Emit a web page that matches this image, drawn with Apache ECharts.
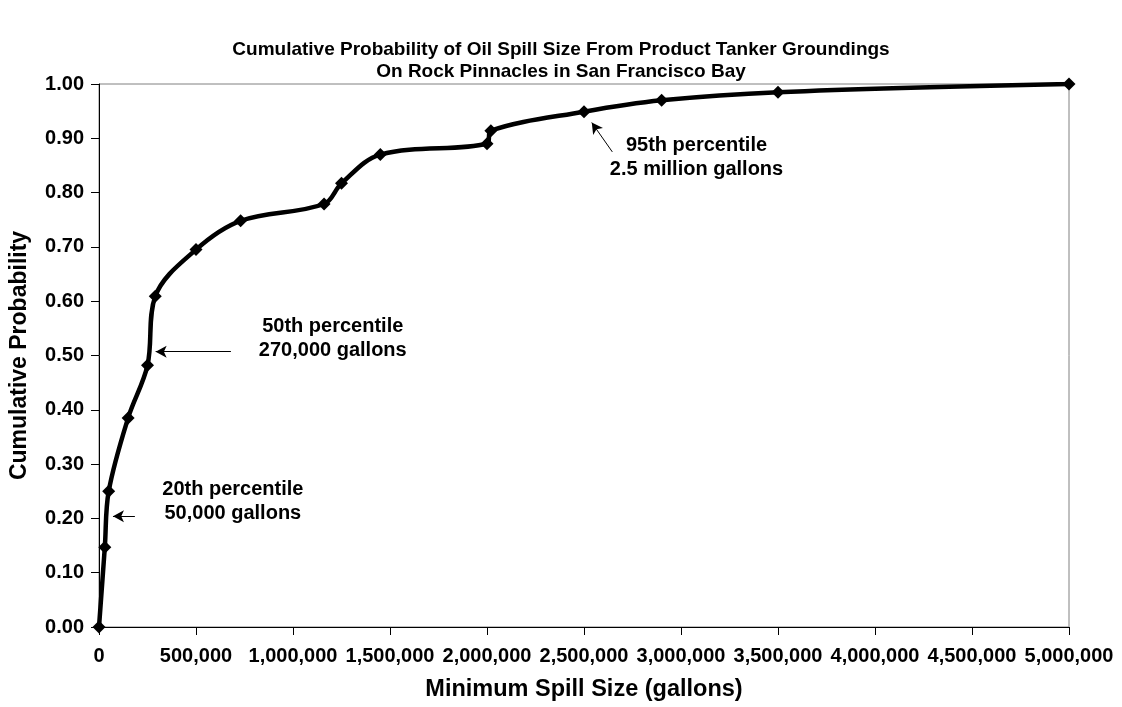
<!DOCTYPE html>
<html>
<head>
<meta charset="utf-8">
<script src="https://cdn.jsdelivr.net/npm/echarts@6/dist/echarts.min.js"></script>
<style>
  html, body { margin: 0; padding: 0; background: #fff; }
  #chart { width: 1122px; height: 707px; }
</style>
</head>
<body>
<div id="chart"></div>
<script>
// spill size (gallons) and cumulative probability
var spillSize = [0, 30000, 50000, 150000, 250000, 290000, 500000, 730000,
  1160000, 1250000, 1450000, 2000000, 2020000, 2500000, 2900000, 3500000, 5000000];
var cumProb = [0, 0.147, 0.25, 0.385, 0.482, 0.609, 0.695, 0.748,
  0.779, 0.817, 0.87, 0.89, 0.914, 0.949, 0.97, 0.985, 1.0];

var titleLines = [
  "Cumulative Probability of Oil Spill Size From Product Tanker Groundings",
  "On Rock Pinnacles in San Francisco Bay"
];
var xTitle = "Minimum Spill Size (gallons)";
var yTitle = "Cumulative Probability";

// percentile notes: text, where the text sits, arrow start and arrow tip
var noteText = ["20th percentile\n50,000 gallons", "50th percentile\n270,000 gallons", "95th percentile\n2.5 million gallons"];
var noteAt = [[690000, 0.232], [1205000, 0.531], [3080000, 0.864]];
var arrowFrom = [[185000, 0.204], [680000, 0.507], [2646000, 0.875]];
var arrowTo = [[72000, 0.204], [292000, 0.507], [2540000, 0.929]];

var FONT = "'Liberation Sans', Arial, sans-serif";

var chart = echarts.init(document.getElementById("chart"));

var series = [];
series.push({
  type: "line",
  data: spillSize.map(function (x, i) { return [x, cumProb[i]]; }),
  smooth: 0.35,
  symbol: "diamond",
  symbolSize: 13,
  lineStyle: { color: "#000", width: 4.5 },
  itemStyle: { color: "#000" },
  z: 3,
  markLine: {
    silent: true,
    animation: false,
    label: { show: false },
    lineStyle: { color: "#000", width: 1, type: "solid" },
    symbolSize: [9, 11],
    data: arrowFrom.map(function (p, i) {
      return [{ coord: p, symbol: "none" }, { coord: arrowTo[i], symbol: "arrow" }];
    })
  },
  markPoint: {
    silent: true,
    animation: false,
    symbol: "rect",
    symbolSize: 1,
    itemStyle: { color: "rgba(0,0,0,0)" },
    label: {
      show: true,
      position: "inside",
      color: "#000",
      fontFamily: FONT,
      fontWeight: "bold",
      fontSize: 20,
      lineHeight: 24,
      align: "center",
      formatter: function (p) { return p.data.note; }
    },
    data: noteAt.map(function (p, i) { return { coord: p, note: noteText[i] }; })
  }
});

chart.setOption({
  animation: false,
  title: {
    text: titleLines.join("\n"),
    left: "center",
    top: 34,
    textStyle: { fontFamily: FONT, fontWeight: "bold", fontSize: 19, lineHeight: 22, color: "#000" }
  },
  grid: {
    left: 94, right: 53, top: 84, bottom: 79,
    show: true, borderColor: "#808080", borderWidth: 1
  },
  xAxis: {
    type: "value",
    min: 0, max: 5000000, interval: 500000,
    name: xTitle,
    nameLocation: "middle",
    nameGap: 51,
    nameTextStyle: { fontFamily: FONT, fontWeight: "bold", fontSize: 23.5, color: "#000" },
    axisLine: { lineStyle: { color: "#000", width: 1 } },
    axisTick: { show: true, length: 8, lineStyle: { color: "#000" } },
    splitLine: { show: false },
    axisLabel: {
      margin: 19,
      fontFamily: FONT, fontWeight: "bold", fontSize: 20, color: "#000",
      formatter: function (v) { return v.toLocaleString("en-US"); }
    }
  },
  yAxis: {
    type: "value",
    min: 0, max: 1, interval: 0.1,
    name: yTitle,
    nameLocation: "middle",
    nameGap: 68,
    nameTextStyle: { fontFamily: FONT, fontWeight: "bold", fontSize: 23, color: "#000" },
    axisLine: { show: true, lineStyle: { color: "#000", width: 1 } },
    axisTick: { show: true, length: 8, lineStyle: { color: "#000" } },
    splitLine: { show: false },
    axisLabel: {
      margin: 15,
      fontFamily: FONT, fontWeight: "bold", fontSize: 20, color: "#000",
      formatter: function (v) { return v.toFixed(2); }
    }
  },
  series: series
});
</script>
</body>
</html>
